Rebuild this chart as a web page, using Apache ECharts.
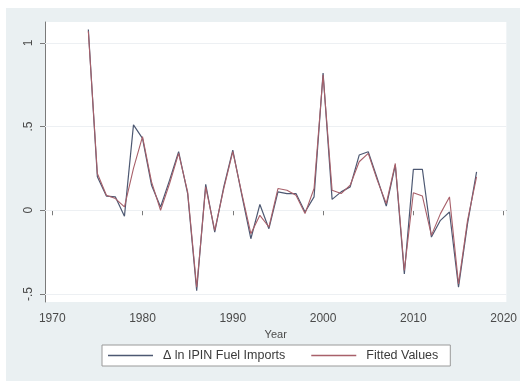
<!DOCTYPE html>
<html>
<head>
<meta charset="utf-8">
<script src="https://cdn.jsdelivr.net/npm/echarts@6/dist/echarts.min.js"></script>
<style>
html,body{margin:0;padding:0;background:#ffffff;}
#chart{width:520px;height:381px;}
</style>
</head>
<body>
<div id="chart"></div>
<script>
const years = [1974,1975,1976,1977,1978,1979,1980,1981,1982,1983,1984,1985,1986,1987,1988,1989,1990,1991,1992,1993,1994,1995,1996,1997,1998,1999,2000,2001,2002,2003,2004,2005,2006,2007,2008,2009,2010,2011,2012,2013,2014,2015,2016,2017];
const actualValues = [1.08,0.20,0.085,0.08,-0.035,0.51,0.43,0.15,0.02,0.18,0.35,0.10,-0.48,0.155,-0.13,0.14,0.36,0.09,-0.17,0.035,-0.11,0.11,0.10,0.10,-0.01,0.08,0.82,0.065,0.11,0.14,0.33,0.35,0.19,0.025,0.27,-0.38,0.245,0.245,-0.16,-0.06,-0.01,-0.46,-0.08,0.23];
const fittedValues = [1.07,0.22,0.09,0.07,0.02,0.25,0.44,0.17,0.00,0.16,0.34,0.11,-0.46,0.14,-0.12,0.13,0.35,0.10,-0.14,-0.03,-0.10,0.13,0.12,0.09,-0.02,0.13,0.81,0.12,0.10,0.15,0.29,0.34,0.18,0.04,0.28,-0.36,0.105,0.085,-0.15,-0.02,0.08,-0.44,-0.06,0.20];
const xTicks = [1970,1980,1990,2000,2010,2020];
const yTicks = [-0.5,0,0.5,1];
const yTickLabels = ['-.5','0','.5','1'];
const seriesNames = ['\u0394 ln IPIN Fuel Imports','Fitted Values'];

const chart = echarts.init(document.getElementById('chart'));
const font = 'Liberation Sans, Arial, sans-serif';
const pair = (vals) => years.map((y,i)=>[y, vals[i]]);

chart.setOption({
  animation:false,
  backgroundColor:'#ffffff',
  textStyle:{fontFamily:font},
  graphic:[{type:'rect', z:-10, silent:true, shape:{x:6,y:8,width:514,height:373}, style:{fill:'#eaf0f2'}}],
  grid:{left:45,right:12,top:22,bottom:79,show:true,backgroundColor:'#ffffff',borderWidth:0},
  xAxis:{
    type:'value', min:1969.2, max:2020.3,
    name:'Year', nameLocation:'middle', nameGap:25,
    nameTextStyle:{color:'#4a4a4a',fontSize:11,fontFamily:font},
    axisLine:{show:true,lineStyle:{color:'#7a7a7a',width:1}},
    axisTick:{show:true,length:5,lineStyle:{color:'#7a7a7a'},customValues:xTicks},
    axisLabel:{color:'#4a4a4a',fontSize:12,margin:11,customValues:xTicks,formatter:v=>String(v)},
    splitLine:{show:false}
  },
  yAxis:{
    type:'value', min:-0.548, max:1.125,
    axisLine:{show:true,lineStyle:{color:'#7a7a7a',width:1}},
    axisTick:{show:true,length:5,lineStyle:{color:'#7a7a7a'},customValues:yTicks},
    axisLabel:{color:'#4a4a4a',fontSize:12,margin:10,rotate:90,customValues:yTicks,
      formatter:v=>{const i=yTicks.findIndex(t=>Math.abs(t-v)<1e-6);return i>=0?yTickLabels[i]:'';}},
    splitLine:{show:false}
  },
  legend:{
    left:102, top:345,
    data:seriesNames,
    icon:'rect', itemWidth:45, itemHeight:1.5, itemGap:26,
    backgroundColor:'#ffffff', borderColor:'#9a9a9a', borderWidth:1, borderRadius:0,
    padding:[4,12,4,6],
    textStyle:{color:'#3a3a3a',fontSize:12.5,fontFamily:font,padding:[0,0,0,5]}
  },
  series:[
    {name:seriesNames[0], type:'line', data:pair(actualValues), showSymbol:false, symbol:'none',
     lineStyle:{color:'#4d5872',width:1.2}, itemStyle:{color:'#4d5872'},
     markLine:{silent:true, symbol:'none', label:{show:false}, lineStyle:{color:'#edf0f3',width:1,type:'solid'},
       data:yTicks.map(v=>({yAxis:v})), z:1}},
    {name:seriesNames[1], type:'line', data:pair(fittedValues), showSymbol:false, symbol:'none',
     lineStyle:{color:'#a8606a',width:1.1}, itemStyle:{color:'#a8606a'}}
  ]
});
</script>
</body>
</html>
